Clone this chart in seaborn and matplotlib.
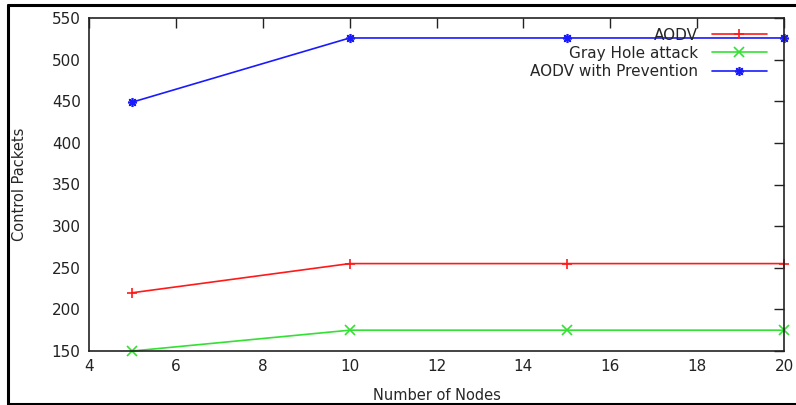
import numpy as np
import matplotlib
matplotlib.use("Agg")
import matplotlib.pyplot as plt
import seaborn as sns
import pandas as pd
from matplotlib.lines import Line2D

# Data
nodes = [5, 10, 15, 20]
aodv = [220, 255, 255, 255]
gray_hole = [150, 175, 175, 175]
aodv_prevention = [449, 526, 526, 526]

series_names = ["AODV", "Gray Hole attack", "AODV with Prevention"]
x_ticks = [4, 6, 8, 10, 12, 14, 16, 18, 20]
y_ticks = [150, 200, 250, 300, 350, 400, 450, 500, 550]

df = pd.DataFrame({
    "Nodes": nodes * 3,
    "Packets": aodv + gray_hole + aodv_prevention,
    "Series": [series_names[0]] * 4 + [series_names[1]] * 4 + [series_names[2]] * 4,
})

sns.set_style("white")
plt.rcParams["font.family"] = ["DejaVu Sans"]

fig = plt.figure(figsize=(7.96, 4.05), dpi=100)
ax = fig.add_axes([89 / 796, 1 - 351 / 405, (784 - 89) / 796, (351 - 18) / 405])

palette = {series_names[0]: "#ff1a1a", series_names[1]: "#33e033", series_names[2]: "#1a1aff"}
markers = {series_names[0]: "+", series_names[1]: "x", series_names[2]: (8, 2, 0)}

sns.lineplot(data=df, x="Nodes", y="Packets", hue="Series", style="Series",
             palette=palette, markers=markers, dashes=False, markersize=6.5,
             linewidth=1.2, ax=ax, legend=False)
# line-art markers need an edge colour matching the line
for ln in ax.lines:
    ln.set_markeredgecolor(ln.get_color())
    ln.set_markeredgewidth(1.2)
    ln.set_clip_on(False)

ax.set_xlim(4, 20)
ax.set_ylim(150, 550)
ax.set_xticks(x_ticks)
ax.set_yticks(y_ticks)
ax.tick_params(direction="in", length=7, width=1, top=True, right=True,
               labelsize=11, colors="#222222", pad=6)
for s in ax.spines.values():
    s.set_color("#222222")
    s.set_linewidth(1.2)

ax.set_xlabel("Number of Nodes", fontsize=10.5, labelpad=10)
ax.set_ylabel("Control Packets", fontsize=10.5, labelpad=18)

handles = [Line2D([], [], color=palette[n], marker=markers[n], markersize=6.5,
                  markeredgewidth=1.2, linewidth=1.2) for n in series_names]
ax.legend(handles, series_names, loc="upper right", bbox_to_anchor=(0.995, 1.012),
          frameon=False, markerfirst=False, fontsize=11, handlelength=3.6,
          handletextpad=0.9, labelspacing=0.2, borderpad=0.4)

# outer frame around the image
fig.add_artist(Line2D([8 / 796, 8 / 796], [1 - 5 / 405, 1 - 404 / 405], color="black", lw=2.2))
fig.add_artist(Line2D([8 / 796, 1], [1 - 5 / 405, 1 - 5 / 405], color="black", lw=2.2))
fig.add_artist(Line2D([8 / 796, 1], [1 - 404 / 405, 1 - 404 / 405], color="black", lw=2.2))

fig.savefig("out.png", dpi=100)
